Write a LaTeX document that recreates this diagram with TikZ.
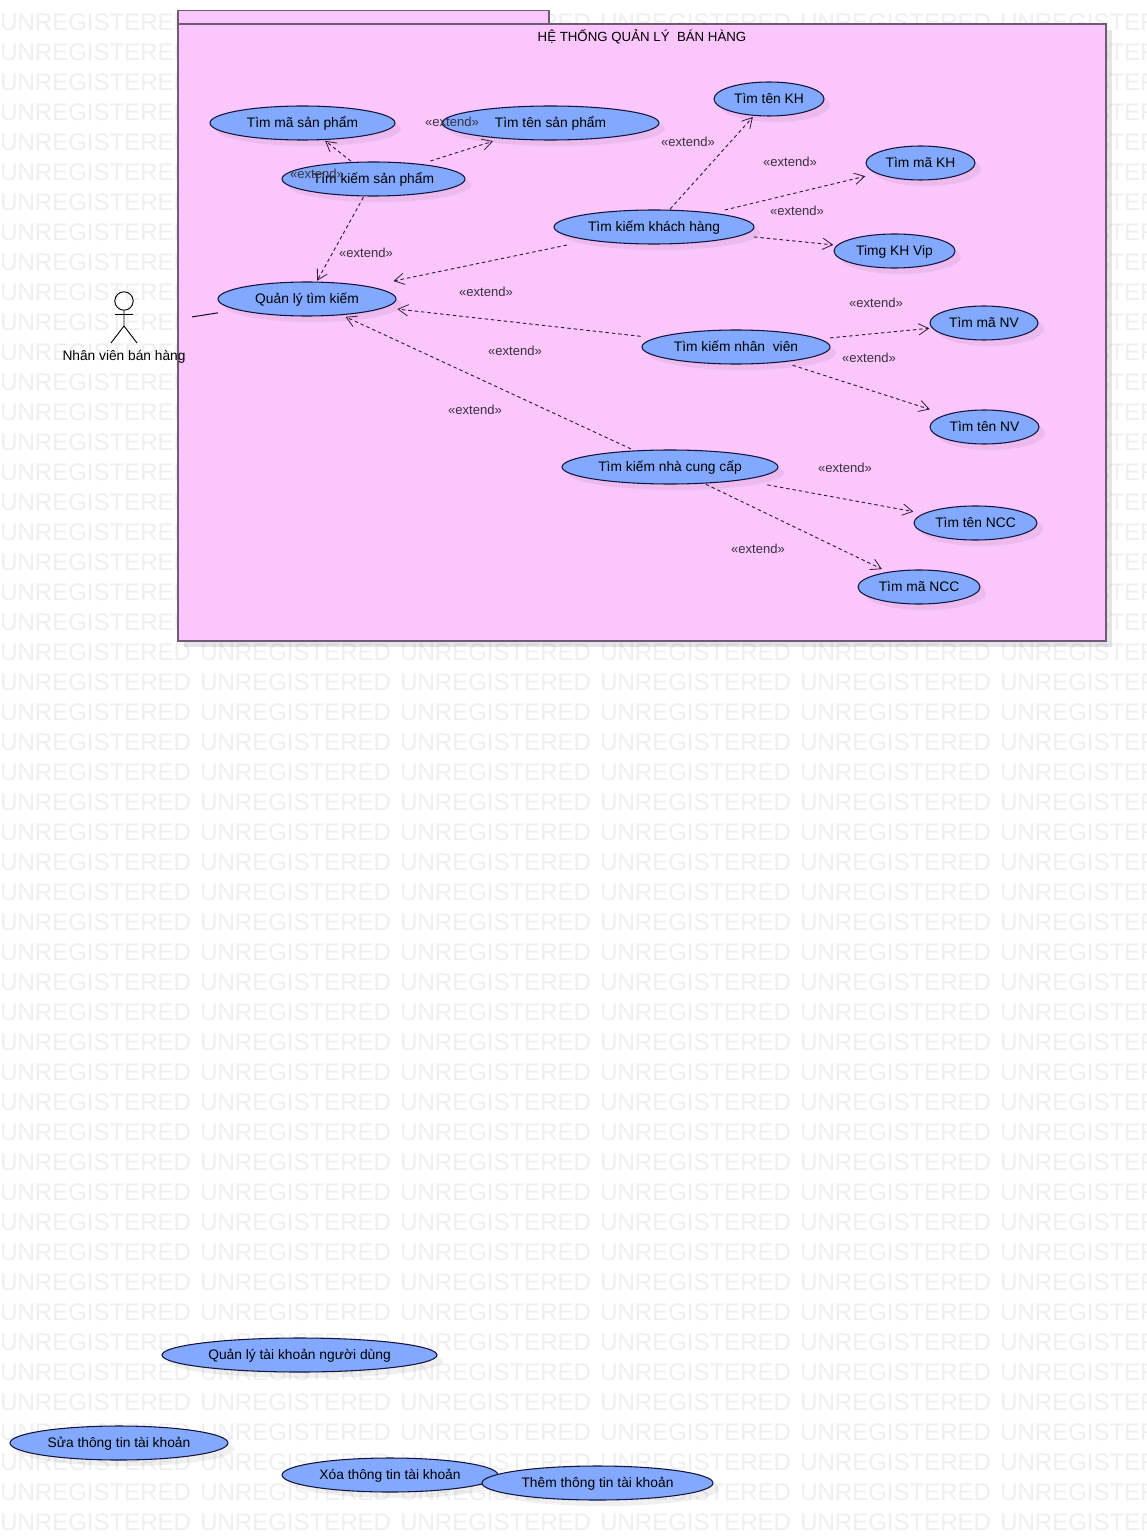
\documentclass[tikz,border=0pt]{standalone}
\usepackage{fontspec}
\setmainfont{Liberation Sans}
\usetikzlibrary{arrows.meta}
\definecolor{pkgfill}{HTML}{FBC6FB}
\definecolor{pkgline}{HTML}{6F5A78}
\definecolor{ucfill}{HTML}{82A9FF}
\definecolor{ucline}{HTML}{14143C}
\definecolor{wm}{HTML}{EFEFEF}
\definecolor{conn}{HTML}{2E1E38}
\definecolor{lab}{HTML}{3A303F}
\tikzset{
  x=0.75pt,y=-0.75pt,
  wmark/.style={font=\fontsize{18pt}{18pt}\selectfont,text=wm,anchor=west,inner sep=0pt},
  ucshadow/.style={fill=black,fill opacity=0.06,draw=none},
  ucshape/.style={fill=ucfill,draw=ucline,line width=0.8pt},
  uclabel/.style={rectangle,inner sep=0pt,outer sep=0pt,align=center,text=black,text height=8.2pt,text depth=1.2pt,font=\fontsize{10.35pt}{12pt}\selectfont},
  ext/.style={dashed,dash pattern=on 2.6pt off 2.2pt,draw=conn,line width=0.7pt,shorten <=1pt,shorten >=1pt,-{Straight Barb[length=7.5pt,width=8.5pt,line width=0.6pt]}},
  extlabel/.style={font=\fontsize{9.8pt}{11pt}\selectfont,text=lab,inner sep=0pt},
  pkg/.style={fill=pkgfill,draw=pkgline,line width=1.1pt},
  pkgshadow/.style={fill=black,fill opacity=0.10,draw=none},
  stick/.style={draw=black,line width=0.7pt},
  assoc/.style={draw=black,line width=0.7pt}
}
\newcommand{\usecase}[6]{%
  \pgfmathsetmacro{\ucx}{(#2+#3)/2}%
  \pgfmathsetmacro{\ucy}{(#4+#5)/2}%
  \pgfmathsetmacro{\ucw}{#3-#2}%
  \pgfmathsetmacro{\uch}{#5-#4}%
  \fill[ucshadow] (\ucx+6,\ucy+6) ellipse [x radius=\ucw*0.375pt,y radius=\uch*0.375pt];
  \path[ucshape] (\ucx,\ucy) ellipse [x radius=\ucw*0.375pt,y radius=\uch*0.375pt];
  \node[uclabel,minimum width=\ucw*0.75pt,minimum height=\uch*0.75pt] (#1) at (\ucx,\ucy) {#6};
}
\begin{document}
\begin{tikzpicture}
\useasboundingbox (0,0) rectangle (1146,1540);
\clip (0,0) rectangle (1146,1540);
\fill[white] (0,0) rectangle (1146,1540);
% watermark
\foreach \yy in {22,52,...,1522}{
  \foreach \xx in {0,200,...,1000}{
    \node[wmark] (wm-\xx-\yy) at (\xx,\yy) {UNREGISTERED};
  }
}
% package
\fill[pkgshadow] (184,30) rectangle (1112,647);
\path[pkg] (178,10.5) rectangle (549,24);
\path[pkg] (178,24) rectangle (1106,641);
\node[font=\fontsize{9.95pt}{12pt}\selectfont,inner sep=0pt,text height=7.7pt,text depth=2pt] (title) at (642,38) {HỆ THỐNG QUẢN LÝ \ BÁN HÀNG};
% use cases
\usecase{maSP}{210}{395}{106}{140}{Tìm mã sản phẩm}
\usecase{tenSP}{442}{659}{106}{140}{Tìm tên sản phẩm}
\usecase{kiemSP}{282}{465}{162}{196}{Tìm kiếm sản phẩm}
\usecase{quanly}{218}{396}{282}{316}{Quản lý tìm kiếm}
\usecase{tenKH}{714}{824}{82}{116}{Tìm tên KH}
\usecase{maKH}{866}{975}{146}{180}{Tìm mã KH}
\usecase{kiemKH}{554}{754}{210}{244}{Tìm kiếm khách hàng}
\usecase{vip}{834}{955}{234}{268}{Timg KH Vip}
\usecase{kiemNV}{642}{830}{330}{364}{Tìm kiếm nhân \ viên}
\usecase{maNV}{930}{1038}{306}{340}{Tìm mã NV}
\usecase{tenNV}{930}{1039}{410}{444}{Tìm tên NV}
\usecase{kiemNCC}{562}{778}{450}{484}{Tìm kiếm nhà cung cấp}
\usecase{tenNCC}{914}{1037}{506}{540}{Tìm tên NCC}
\usecase{maNCC}{858}{980}{570}{604}{Tìm mã NCC}
\usecase{qlTK}{162}{437}{1338}{1372}{Quản lý tài khoản người dùng}
\usecase{suaTK}{10}{228}{1426}{1460}{Sửa thông tin tài khoản}
\usecase{xoaTK}{282}{498}{1458}{1492}{Xóa thông tin tài khoản}
\usecase{themTK}{482}{713}{1466}{1500}{Thêm thông tin tài khoản}
% actor
\node[rectangle,inner sep=0pt,outer sep=0pt,minimum width=102pt,minimum height=55pt] (actor) at (124,327.5) {};
\node[font=\fontsize{10.3pt}{12pt}\selectfont,inner sep=0pt] (actorname) at (124,357) {Nhân viên bán hàng};
\draw[stick] (124,301) circle [radius=6.9pt];
\draw[stick] (124,310.5) -- (124,326) (115,314.5) -- (133,314.5) (111,343) -- (124,326) -- (137,343);
\draw[assoc] (actor) -- (quanly);
% extends
\draw[ext] (kiemSP) -- (maSP);
\draw[ext,shorten <=2.5pt,shorten >=3pt] (kiemSP) -- (tenSP);
\draw[ext] (kiemSP) -- (quanly);
\draw[ext] (kiemKH) -- (tenKH);
\draw[ext,shorten <=0pt,shorten >=0.5pt] (kiemKH) -- (maKH);
\draw[ext,shorten <=0pt,shorten >=0.5pt] (kiemKH) -- (vip);
\draw[ext,shorten <=4pt,shorten >=3.5pt] (kiemKH) -- (quanly);
\draw[ext] (kiemNV) -- (quanly);
\draw[ext,shorten <=0pt,shorten >=0.5pt] (kiemNV) -- (maNV);
\draw[ext,shorten <=3pt,shorten >=1.5pt] (kiemNV) -- (tenNV);
\draw[ext,shorten <=2pt,shorten >=1.5pt] (kiemNCC) -- (quanly);
\draw[ext,shorten <=3.5pt,shorten >=0.5pt] (kiemNCC) -- (tenNCC);
\draw[ext,shorten <=0.5pt,shorten >=1.5pt] (kiemNCC) -- (maNCC);
% labels
\node[extlabel] (e1) at (452,122) {«extend»};
\node[extlabel] (e2) at (317,174) {«extend»};
\node[extlabel] (e3) at (366,253) {«extend»};
\node[extlabel] (e4) at (688,142) {«extend»};
\node[extlabel] (e5) at (790,162) {«extend»};
\node[extlabel] (e6) at (797,211) {«extend»};
\node[extlabel] (e7) at (486,292) {«extend»};
\node[extlabel] (e8) at (515,351) {«extend»};
\node[extlabel] (e9) at (475,410) {«extend»};
\node[extlabel] (e10) at (876,303) {«extend»};
\node[extlabel] (e11) at (869,358) {«extend»};
\node[extlabel] (e12) at (845,468) {«extend»};
\node[extlabel] (e13) at (758,549) {«extend»};
\end{tikzpicture}
\end{document}
